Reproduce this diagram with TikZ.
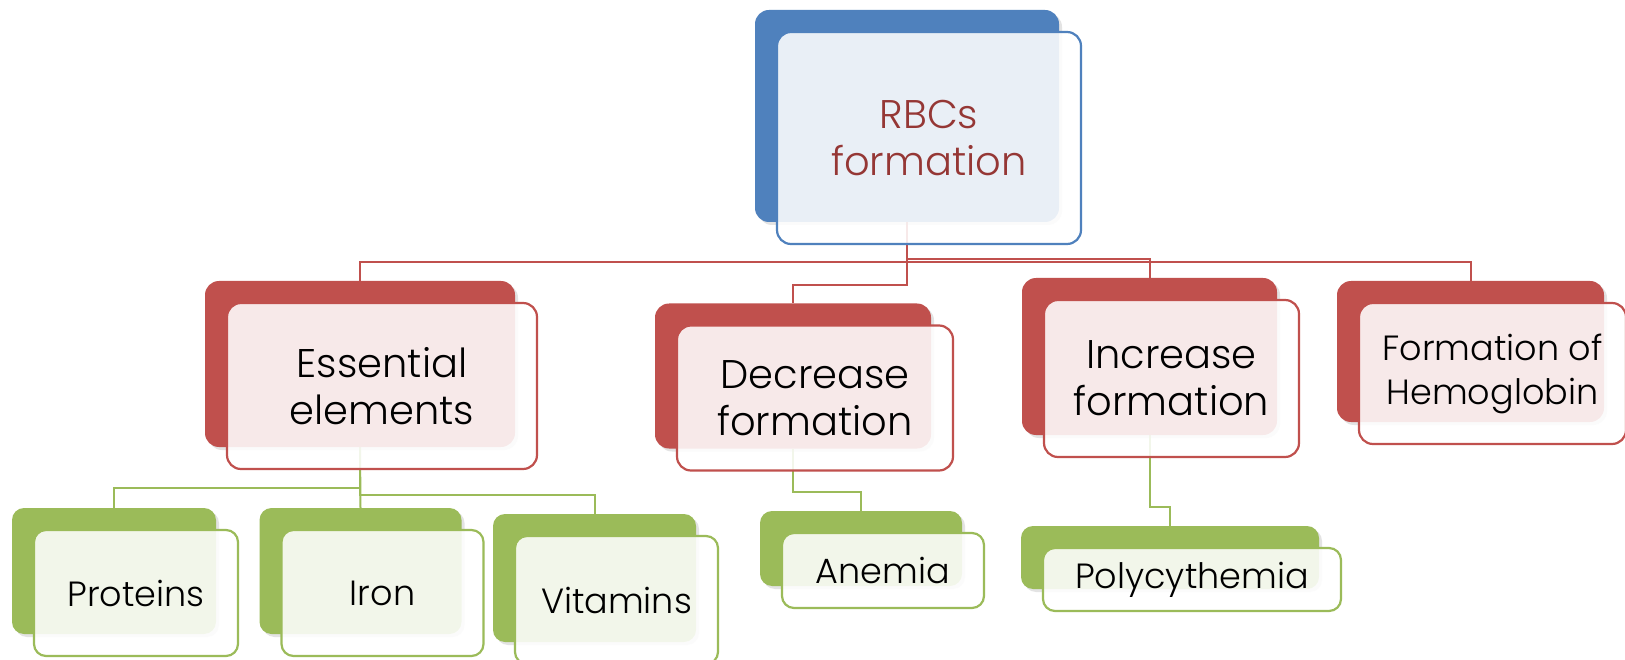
\documentclass[tikz,border=0pt]{standalone}
\usepackage{fontspec}
\setmainfont{Poppins}[UprightFont={* Light}]
\usetikzlibrary{shadows}
\definecolor{cblue}{HTML}{4F81BD}
\definecolor{cred}{HTML}{C0504D}
\definecolor{cgreen}{HTML}{9BBB59}
\definecolor{ctext}{HTML}{953735}
\begin{document}
\begin{tikzpicture}[x=1pt,y=-1pt,
  backbox/.style={draw=none, fill=#1, inner sep=0pt, rounded corners=14pt,
    drop shadow={opacity=0.22, shadow xshift=3pt, shadow yshift=-3pt}},
  frontbox/.style={draw=#1, line width=2.2pt, fill=white, fill opacity=0.88,
    text opacity=1, inner sep=0pt, rounded corners=14pt, align=center},
  bigtxt/.style={font=\fontsize{40}{47}\selectfont},
  smalltxt/.style={font=\fontsize{35}{44}\selectfont},
  rline/.style={draw=cred, line width=2pt},
  gline/.style={draw=cgreen, line width=2pt},
]
\useasboundingbox (0,0) rectangle (1625,660);
\clip (0,0) rectangle (1625,660);
\fill[white] (0,0) rectangle (1625,660);

% junction levels
\coordinate (jE) at (0,262);
\coordinate (jD) at (0,285);
\coordinate (jI) at (0,259);
\coordinate (jH) at (0,262);
\coordinate (gP) at (0,488);
\coordinate (gV) at (0,495);
\coordinate (gA) at (0,492);
\coordinate (gY) at (0,507);

% box centres
\path
  (907,116)    coordinate (topC)
  (360,364)    coordinate (essC)
  (793,376)    coordinate (decC)
  (1149.5,356.5) coordinate (incC)
  (1470.5,351.5) coordinate (hemC)
  (114,571)    coordinate (proC)
  (360.5,571)  coordinate (iroC)
  (594.5,578)  coordinate (vitC)
  (861,548.5)  coordinate (aneC)
  (1170,557.5) coordinate (polC);

% invisible anchors for connectors
\node[inner sep=0, minimum width=304pt, minimum height=212pt] (topB) at (topC) {};
\node[inner sep=0, minimum width=310pt, minimum height=166pt] (essB) at (essC) {};
\node[inner sep=0, minimum width=276pt, minimum height=145pt] (decB) at (decC) {};
\node[inner sep=0, minimum width=255pt, minimum height=157pt] (incB) at (incC) {};
\node[inner sep=0, minimum width=267pt, minimum height=141pt] (hemB) at (hemC) {};
\node[inner sep=0, minimum width=204pt, minimum height=126pt] (proB) at (proC) {};
\node[inner sep=0, minimum width=202pt, minimum height=126pt] (iroB) at (iroC) {};
\node[inner sep=0, minimum width=203pt, minimum height=128pt] (vitB) at (vitC) {};
\node[inner sep=0, minimum width=202pt, minimum height=75pt] (aneB) at (aneC) {};
\node[inner sep=0, minimum width=298pt, minimum height=63pt] (polB) at (polC) {};

% connectors
\draw[rline] (topB.south) -- (topB.south |- jE) -| (essB.north);
\draw[rline] (topB.south) -- (topB.south |- jD) -| (decB.north);
\draw[rline] (topB.south) -- (topB.south |- jI) -| (incB.north);
\draw[rline] (topB.south) -- (topB.south |- jH) -| (hemB.north);
\draw[gline] (essB.south) -- (essB.south |- gP) -| (proB.north);
\draw[gline] (essB.south) -- (iroB.north);
\draw[gline] (essB.south) -- (essB.south |- gV) -| (vitB.north);
\draw[gline] (decB.south) -- (decB.south |- gA) -| (aneB.north);
\draw[gline] (incB.south) -- (incB.south |- gY) -| (polB.north);

% back boxes
\node[backbox=cblue, minimum width=304pt, minimum height=212pt] (topK) at (topC) {};
\node[backbox=cred, minimum width=310pt, minimum height=166pt] (essK) at (essC) {};
\node[backbox=cred, minimum width=276pt, minimum height=145pt] (decK) at (decC) {};
\node[backbox=cred, minimum width=255pt, minimum height=157pt] (incK) at (incC) {};
\node[backbox=cred, minimum width=267pt, minimum height=141pt] (hemK) at (hemC) {};
\node[backbox=cgreen, minimum width=204pt, minimum height=126pt, rounded corners=12pt] (proK) at (proC) {};
\node[backbox=cgreen, minimum width=202pt, minimum height=126pt, rounded corners=12pt] (iroK) at (iroC) {};
\node[backbox=cgreen, minimum width=203pt, minimum height=128pt, rounded corners=12pt] (vitK) at (vitC) {};
\node[backbox=cgreen, minimum width=202pt, minimum height=75pt, rounded corners=12pt] (aneK) at (aneC) {};
\node[backbox=cgreen, minimum width=298pt, minimum height=63pt, rounded corners=12pt] (polK) at (polC) {};

% front boxes with text
\node[frontbox=cblue, bigtxt, text=ctext, minimum width=304pt, minimum height=212pt] (topF) at ([shift={(22,22)}]topC) {RBCs\\formation};
\node[frontbox=cred, bigtxt, minimum width=310pt, minimum height=166pt] (essF) at ([shift={(22,22)}]essC) {Essential\\elements};
\node[frontbox=cred, bigtxt, minimum width=276pt, minimum height=145pt] (decF) at ([shift={(22,22)}]decC) {Decrease\\formation};
\node[frontbox=cred, bigtxt, minimum width=255pt, minimum height=157pt] (incF) at ([shift={(22,22)}]incC) {Increase\\formation};
\node[frontbox=cred, smalltxt, minimum width=267pt, minimum height=141pt] (hemF) at ([shift={(22,22)}]hemC) {Formation of\\Hemoglobin};
\node[frontbox=cgreen, smalltxt, rounded corners=12pt, minimum width=204pt, minimum height=126pt] (proF) at ([shift={(22,22)}]proC) {Proteins};
\node[frontbox=cgreen, smalltxt, rounded corners=12pt, minimum width=202pt, minimum height=126pt] (iroF) at ([shift={(22,22)}]iroC) {Iron};
\node[frontbox=cgreen, smalltxt, rounded corners=12pt, minimum width=203pt, minimum height=128pt] (vitF) at ([shift={(22,22)}]vitC) {Vitamins};
\node[frontbox=cgreen, smalltxt, rounded corners=12pt, minimum width=202pt, minimum height=75pt] (aneF) at ([shift={(22,22)}]aneC) {Anemia};
\node[frontbox=cgreen, smalltxt, rounded corners=12pt, minimum width=298pt, minimum height=63pt] (polF) at ([shift={(22,22)}]polC) {Polycythemia};
\end{tikzpicture}
\end{document}
